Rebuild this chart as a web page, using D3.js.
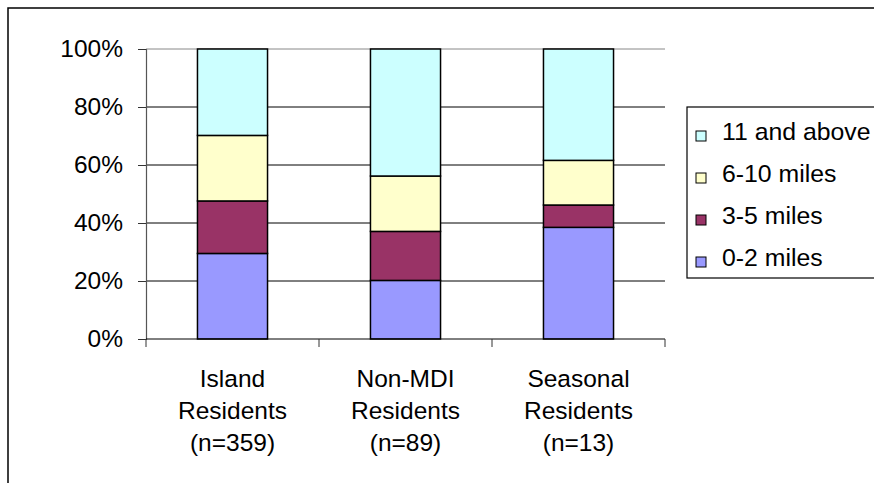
<!DOCTYPE html>
<html>
<head>
<meta charset="utf-8">
<script src="https://cdn.jsdelivr.net/npm/d3@7"></script>
<style>
  html, body { margin: 0; padding: 0; background: #fff; }
  svg { display: block; }
  text { font-family: Arial, "Liberation Sans", sans-serif; fill: #000; }
</style>
</head>
<body>
<svg id="chart" width="874" height="483"></svg>
<script>
// Distance travelled, share of respondents per group
const categories = [
  ["Island", "Residents", "(n=359)"],
  ["Non-MDI", "Residents", "(n=89)"],
  ["Seasonal", "Residents", "(n=13)"]
];
const seriesNames = ["0-2 miles", "3-5 miles", "6-10 miles", "11 and above"];
const seriesColors = ["#9999FF", "#993366", "#FFFFCC", "#CCFFFF"];
const miles0to2   = [29.5, 20.2, 38.5];
const miles3to5   = [18.1, 16.9, 7.7];
const miles6to10  = [22.6, 19.1, 15.4];
const miles11plus = [29.8, 43.8, 38.4];
const yTicks = [0, 20, 40, 60, 80, 100];

const svg = d3.select("#chart");
const W = 874, H = 483;
const plot = { left: 146, right: 665, top: 49, bottom: 339 };
const fontSize = 24.5;

// outer chart frame (continues past the right and bottom edges)
svg.append("path")
  .attr("d", `M8,${H + 2} L8,8 L${W + 2},8`)
  .attr("fill", "none").attr("stroke", "#000").attr("stroke-width", 1.5);

const rows = categories.map((c, i) => ({
  key: i,
  "0-2 miles": miles0to2[i],
  "3-5 miles": miles3to5[i],
  "6-10 miles": miles6to10[i],
  "11 and above": miles11plus[i]
}));

const x = d3.scaleBand()
  .domain(categories.map((c, i) => i))
  .range([plot.left, plot.right])
  .paddingInner(0.595)
  .paddingOuter(0.595 / 2);

const y = d3.scaleLinear().domain([0, 100]).range([plot.bottom, plot.top]);

// horizontal gridlines
svg.append("g")
  .selectAll("line")
  .data(yTicks.filter(t => t > 0))
  .join("line")
  .attr("x1", plot.left).attr("x2", plot.right)
  .attr("y1", d => y(d)).attr("y2", d => y(d))
  .attr("stroke", d => d === 100 ? "#888" : "#000")
  .attr("stroke-width", 1);

// value axis
const yAxis = svg.append("g")
  .attr("transform", `translate(${plot.left},0)`)
  .call(d3.axisLeft(y).tickValues(yTicks).tickFormat(d => d + "%").tickSize(8).tickPadding(15));
yAxis.select(".domain").attr("stroke", "#555").attr("stroke-width", 1.2);
yAxis.selectAll(".tick line").attr("stroke", "#333");
yAxis.selectAll(".tick text")
  .attr("font-size", fontSize).attr("font-family", "Arial, 'Liberation Sans', sans-serif")
  .attr("fill", "#000");

// stacked bars
const stack = d3.stack().keys(seriesNames);
const layers = stack(rows);
const color = d3.scaleOrdinal().domain(seriesNames).range(seriesColors);

svg.append("g")
  .selectAll("g")
  .data(layers)
  .join("g")
  .attr("fill", d => color(d.key))
  .selectAll("rect")
  .data(d => d)
  .join("rect")
  .attr("x", d => x(d.data.key))
  .attr("width", x.bandwidth())
  .attr("y", d => y(d[1]))
  .attr("height", d => y(d[0]) - y(d[1]))
  .attr("stroke", "#000")
  .attr("stroke-width", 1.5);

// category axis
const xAxisG = svg.append("g").attr("transform", `translate(0,${plot.bottom})`);
xAxisG.append("line")
  .attr("x1", plot.left).attr("x2", plot.right)
  .attr("stroke", "#000").attr("stroke-width", 1);
const boundaries = d3.range(categories.length + 1).map(i => plot.left + i * x.step());
xAxisG.selectAll("line.tick")
  .data(boundaries)
  .join("line")
  .attr("class", "tick")
  .attr("x1", d => d).attr("x2", d => d)
  .attr("y1", 0).attr("y2", 8)
  .attr("stroke", "#333");

const labels = svg.append("g");
categories.forEach((lines, i) => {
  const cx = x(i) + x.bandwidth() / 2;
  lines.forEach((t, j) => {
    labels.append("text")
      .attr("x", cx)
      .attr("y", 387 + j * 32)
      .attr("text-anchor", "middle")
      .attr("font-size", fontSize)
      .text(t);
  });
});

// legend
const legend = svg.append("g");
legend.append("rect")
  .attr("x", 687).attr("y", 107)
  .attr("width", 200).attr("height", 171)
  .attr("fill", "#fff").attr("stroke", "#000").attr("stroke-width", 1.2);

const legendOrder = seriesNames.slice().reverse();
const legendY = [131, 173, 215, 257];
legendOrder.forEach((name, k) => {
  const cy = legendY[k];
  legend.append("rect")
    .attr("x", 696).attr("y", cy)
    .attr("width", 10).attr("height", 10)
    .attr("fill", color(name))
    .attr("stroke", "#000").attr("stroke-width", 1);
  legend.append("text")
    .attr("x", 722).attr("y", cy + 8.5)
    .attr("font-size", 24.8)
    .text(name);
});
</script>
</body>
</html>
